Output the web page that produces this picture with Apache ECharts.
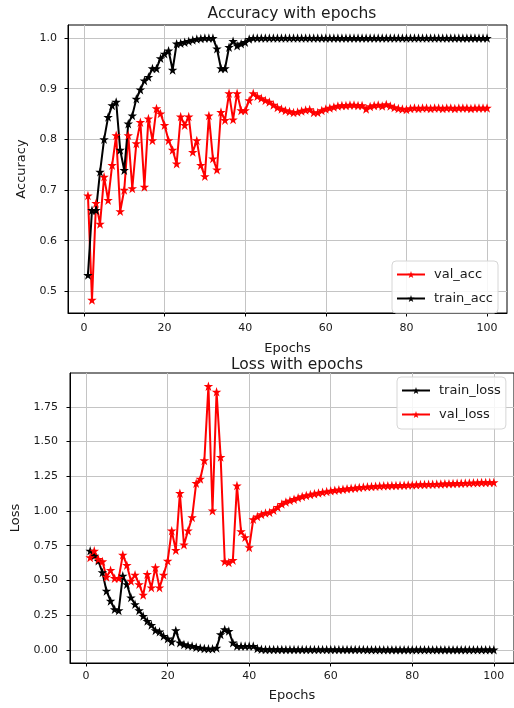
<!DOCTYPE html>
<html><head><meta charset="utf-8">
<script src="https://cdn.jsdelivr.net/npm/echarts@6/dist/echarts.min.js"></script>
<style>html,body{margin:0;padding:0;background:#fff}#c{width:514px;height:708px}</style>
</head><body><div id="c"></div>
<script>
const epochs = [1,2,3,4,5,6,7,8,9,10,11,12,13,14,15,16,17,18,19,20,21,22,23,24,25,26,27,28,29,30,31,32,33,34,35,36,37,38,39,40,41,42,43,44,45,46,47,48,49,50,51,52,53,54,55,56,57,58,59,60,61,62,63,64,65,66,67,68,69,70,71,72,73,74,75,76,77,78,79,80,81,82,83,84,85,86,87,88,89,90,91,92,93,94,95,96,97,98,99,100];

const valAcc = [0.689,0.483,0.674,0.633,0.726,0.680,0.749,0.808,0.658,0.700,
0.808,0.703,0.792,0.834,0.706,0.841,0.798,0.861,0.851,0.828,
0.798,0.779,0.752,0.845,0.828,0.845,0.775,0.798,0.749,0.727,
0.847,0.762,0.740,0.854,0.838,0.891,0.839,0.891,0.857,0.857,
0.877,0.891,0.885,0.881,0.877,0.874,0.868,0.863,0.860,0.857,
0.855,0.853,0.854,0.856,0.858,0.859,0.853,0.853,0.857,0.860,
0.862,0.864,0.866,0.867,0.867,0.868,0.868,0.867,0.867,0.860,
0.865,0.867,0.868,0.866,0.869,0.866,0.863,0.861,0.860,0.859,
0.861,0.862,0.861,0.862,0.862,0.861,0.862,0.862,0.861,0.862,
0.862,0.861,0.862,0.862,0.862,0.861,0.862,0.862,0.862,0.862];

const trainAcc = [0.532,0.660,0.660,0.736,0.800,0.844,0.867,0.874,0.779,0.739,
0.831,0.847,0.880,0.898,0.916,0.923,0.940,0.940,0.960,0.969,
0.975,0.937,0.989,0.990,0.992,0.994,0.996,0.998,0.999,1.000,
1.000,1.000,0.979,0.940,0.940,0.982,0.994,0.985,0.989,0.992,
0.998,1.000,1.000,1.000,1.000,1.000,1.000,1.000,1.000,1.000,
1.000,1.000,1.000,1.000,1.000,1.000,1.000,1.000,1.000,1.000,
1.000,1.000,1.000,1.000,1.000,1.000,1.000,1.000,1.000,1.000,
1.000,1.000,1.000,1.000,1.000,1.000,1.000,1.000,1.000,1.000,
1.000,1.000,1.000,1.000,1.000,1.000,1.000,1.000,1.000,1.000,
1.000,1.000,1.000,1.000,1.000,1.000,1.000,1.000,1.000,1.000];

const trainLoss = [0.713,0.677,0.641,0.557,0.424,0.352,0.292,0.284,0.533,0.472,
0.376,0.328,0.284,0.243,0.207,0.178,0.140,0.130,0.099,0.080,
0.058,0.140,0.051,0.039,0.031,0.027,0.019,0.014,0.010,0.007,
0.007,0.014,0.111,0.147,0.135,0.051,0.027,0.027,0.027,0.027,
0.027,0.010,0.004,0.003,0.003,0.003,0.003,0.003,0.002,0.002,
0.002,0.002,0.002,0.002,0.002,0.002,0.002,0.002,0.002,0.002,
0.002,0.002,0.002,0.002,0.002,0.002,0.002,0.002,0.001,0.001,
0.001,0.001,0.001,0.001,0.001,0.001,0.001,0.001,0.001,0.001,
0.001,0.001,0.001,0.001,0.001,0.001,0.001,0.001,0.001,0.001,
0.001,0.001,0.001,0.001,0.001,0.001,0.001,0.001,0.001,0.001];

const valLoss = [0.665,0.713,0.653,0.636,0.525,0.573,0.516,0.516,0.684,0.610,
0.496,0.540,0.472,0.395,0.545,0.448,0.593,0.448,0.540,0.641,
0.858,0.718,1.128,0.757,0.858,0.954,1.200,1.231,1.364,1.899,
1.002,1.858,1.388,0.636,0.629,0.646,1.183,0.853,0.810,0.737,
0.940,0.960,0.975,0.985,0.990,1.005,1.027,1.050,1.065,1.075,
1.085,1.095,1.105,1.112,1.118,1.124,1.130,1.135,1.140,1.145,
1.150,1.153,1.157,1.160,1.163,1.166,1.169,1.172,1.174,1.176,
1.178,1.180,1.181,1.182,1.183,1.184,1.185,1.186,1.187,1.188,
1.189,1.190,1.191,1.192,1.193,1.194,1.195,1.196,1.197,1.198,
1.199,1.200,1.201,1.202,1.203,1.204,1.205,1.205,1.206,1.206];

const xTickLabels = [0, 20, 40, 60, 80, 100];
const accTickLabels = [0.5, 0.6, 0.7, 0.8, 0.9, 1.0];
const lossTickLabels = [0, 0.25, 0.5, 0.75, 1.0, 1.25, 1.5, 1.75];

const FONT = 'DejaVu Sans';
const TXT = '#1a1a1a';
const STAR = 'path://M50,0 L61.8,35.1 L98.8,35.1 L68.8,57.1 L80.3,92.7 L50,70.6 L19.7,92.7 L31.2,57.1 L1.2,35.1 L38.2,35.1 Z';

function pairs(vals) { return epochs.map((e, i) => [e, vals[i]]); }

function xAx(gi, labelMargin, nameGap) {
  return {
    type: 'value', gridIndex: gi, min: -3.95, max: 104.95,
    name: 'Epochs', nameLocation: 'middle', nameGap: nameGap,
    nameTextStyle: { fontFamily: FONT, fontSize: 13, color: TXT },
    axisLine: { show: true, onZero: false, lineStyle: { color: '#000', width: 1 } },
    axisTick: { show: true, length: 3.5, lineStyle: { color: '#000' }, customValues: xTickLabels },
    axisLabel: { customValues: xTickLabels, margin: labelMargin, fontFamily: FONT, fontSize: 11, color: TXT,
      formatter: v => String(Math.round(v)) },
    splitLine: { show: true, lineStyle: { color: '#c4c4c4', width: 1 } }
  };
}
function yAx(gi, min, max, ticks, digits, name, nameGap, labelMargin) {
  return {
    type: 'value', gridIndex: gi, min: min, max: max,
    name: name, nameLocation: 'middle', nameGap: nameGap,
    nameTextStyle: { fontFamily: FONT, fontSize: 13, color: TXT },
    axisLine: { show: true, onZero: false, lineStyle: { color: '#000', width: 1 } },
    axisTick: { show: true, length: 3.5, lineStyle: { color: '#000' }, customValues: ticks },
    axisLabel: { customValues: ticks, margin: labelMargin, fontFamily: FONT, fontSize: 11, color: TXT,
      formatter: v => v.toFixed(digits) },
    splitLine: { show: true, lineStyle: { color: '#c4c4c4', width: 1 } }
  };
}
function ser(name, vals, color, gi) {
  return {
    name: name, type: 'line', xAxisIndex: gi, yAxisIndex: gi, data: pairs(vals),
    symbol: STAR, symbolSize: 9.5, showAllSymbol: true,
    lineStyle: { color: color, width: 2 }, itemStyle: { color: color },
    emphasis: { disabled: true }
  };
}
function leg(names, left, top) {
  return {
    data: names, orient: 'vertical', left: left, top: top,
    itemWidth: 28, itemHeight: 9, itemGap: 11, padding: [7, 5, 8, 4],
    backgroundColor: 'rgba(255,255,255,0.85)', borderColor: '#d6d6d6', borderWidth: 1, borderRadius: 4,
    textStyle: { fontFamily: FONT, fontSize: 13, color: TXT, padding: [0, 0, 0, 4] }
  };
}

const chart = echarts.init(document.getElementById('c'), null, { renderer: 'canvas' });
chart.setOption({
  animation: false,
  backgroundColor: '#ffffff',
  title: [
    { text: 'Accuracy with epochs', left: 287, top: 1, textAlign: 'center',
      textStyle: { fontFamily: FONT, fontSize: 15.5, fontWeight: 'normal', color: TXT } },
    { text: 'Loss with epochs', left: 292, top: 352, textAlign: 'center',
      textStyle: { fontFamily: FONT, fontSize: 15.5, fontWeight: 'normal', color: TXT } }
  ],
  grid: [
    { left: 68, top: 25, width: 439, height: 288, show: true, borderColor: '#000', borderWidth: 1, backgroundColor: 'transparent' },
    { left: 70, top: 373, width: 444, height: 290, show: true, borderColor: '#000', borderWidth: 1, backgroundColor: 'transparent' }
  ],
  xAxis: [ xAx(0, 10, 29), xAx(1, 8, 26) ],
  yAxis: [
    yAx(0, 0.45715, 1.02585, accTickLabels, 1, 'Accuracy', 38, 11),
    yAx(1, -0.0949, 1.9939, lossTickLabels, 2, 'Loss', 45, 12)
  ],
  legend: [ leg(['val_acc', 'train_acc'], 392, 261), leg(['train_loss', 'val_loss'], 397, 377) ],
  series: [
    ser('val_acc', valAcc, '#ff0000', 0),
    ser('train_acc', trainAcc, '#000000', 0),
    ser('train_loss', trainLoss, '#000000', 1),
    ser('val_loss', valLoss, '#ff0000', 1)
  ]
});
</script></body></html>
